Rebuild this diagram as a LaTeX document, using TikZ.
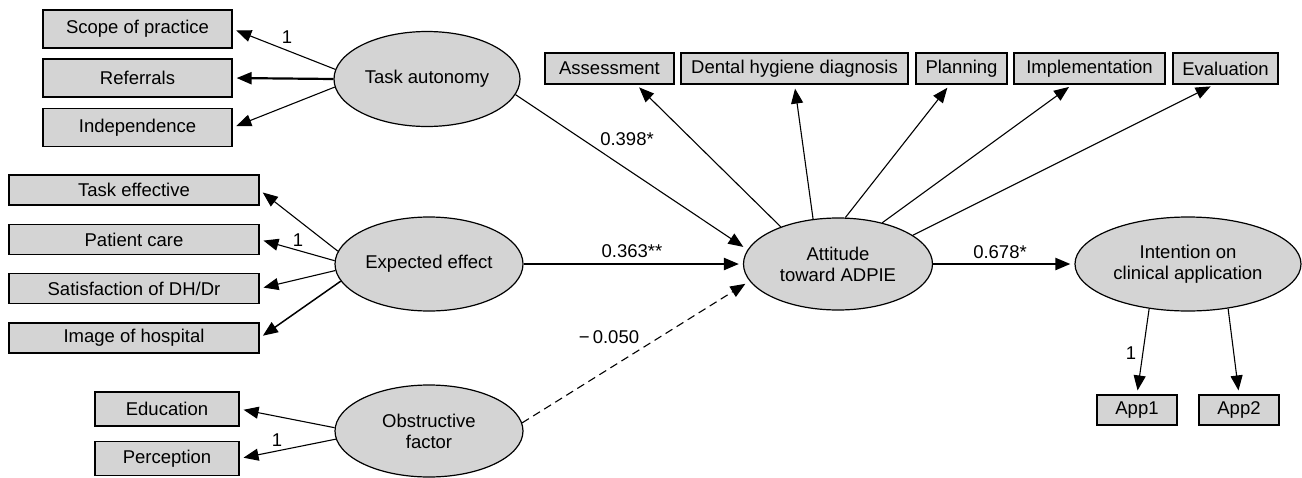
\documentclass[tikz,border=0pt]{standalone}
\usepackage{fontspec}
\setmainfont{Liberation Sans}
\usetikzlibrary{arrows.meta,shapes.geometric}
\definecolor{fillgray}{RGB}{212,212,212}
\tikzset{
  obs/.style={draw=black, fill=fillgray, line width=1.2pt, inner sep=0pt},
  lat/.style={ellipse, draw=black, fill=fillgray, line width=1.2pt, inner sep=0pt, align=center},
  arr/.style={-{Triangle[length=15pt,width=12pt]}, line width=1.1pt, shorten >=4pt},
  thk/.style={line width=2.2pt},
  lbl/.style={inner sep=0pt}
}
\begin{document}
\begin{tikzpicture}[x=1pt,y=-1pt,font=\fontsize{18.5}{21}\selectfont]
\useasboundingbox (0,0) rectangle (1302,477);

% latent variables
\node[lat, minimum width=186pt, minimum height=95pt] (ta) at (427,79) {Task autonomy};
\node[lat, minimum width=188pt, minimum height=94pt] (ee) at (429,264) {Expected effect};
\node[lat, minimum width=188pt, minimum height=92pt] (of) at (429,431) {Obstructive\\factor};
\node[lat, minimum width=189pt, minimum height=92pt] (att) at (838,264) {Attitude\\toward ADPIE};
\node[lat, minimum width=226pt, minimum height=94pt] (int) at (1188,264) {Intention on\\clinical application};

% task autonomy indicators
\node[obs, minimum width=189pt, minimum height=38pt] (scope) at (137.5,29) {Scope of practice};
\node[obs, minimum width=189pt, minimum height=38pt] (ref) at (137.5,78) {Referrals};
\node[obs, minimum width=189pt, minimum height=38pt] (ind) at (137.5,127.5) {Independence};

% expected effect indicators
\node[obs, minimum width=250pt, minimum height=30pt] (te) at (134,190) {Task effective};
\node[obs, minimum width=250pt, minimum height=30pt] (pc) at (134,239.5) {Patient care};
\node[obs, minimum width=250pt, minimum height=30pt] (sat) at (134,288.5) {Satisfaction of DH/Dr};
\node[obs, minimum width=250pt, minimum height=30pt] (img) at (134,338) {Image of hospital};

% obstructive indicators
\node[obs, minimum width=144pt, minimum height=34pt] (edu) at (167,409) {Education};
\node[obs, minimum width=144pt, minimum height=34pt] (per) at (167,458.5) {Perception};

% ADPIE indicators
\node[obs, minimum width=129pt, minimum height=31pt] (ass) at (609.5,68.5) {Assessment};
\node[obs, minimum width=227pt, minimum height=31pt] (dhd) at (794.5,68.5) {Dental hygiene diagnosis};
\node[obs, minimum width=91pt, minimum height=31pt] (pla) at (961.5,68.5) {Planning};
\node[obs, minimum width=151pt, minimum height=31pt] (imp) at (1089.5,68.5) {Implementation};
\node[obs, minimum width=105pt, minimum height=31pt] (eva) at (1225.5,68.5) {Evaluation};

% application indicators
\node[obs, minimum width=80pt, minimum height=30pt] (app1) at (1137,410) {App1};
\node[obs, minimum width=80pt, minimum height=30pt] (app2) at (1239,410) {App2};

% task autonomy arrows
\draw[arr] (ta.174) -- (scope.east);
\draw[arr, thk] (ta.180) -- (ref.east);
\draw[arr] (ta.185.5) -- (ind.east);

% expected effect arrows
\draw[arr] (ee.172.8) -- (te.east);
\draw[arr] (ee.178.8) -- (pc.east);
\draw[arr] (ee.184.8) -- (sat.east);
\draw[arr, line width=1.5pt] (ee.191.4) -- (img.east);

% obstructive arrows
\draw[arr] (of.178.8) -- (edu.east);
\draw[arr] (of.185.4) -- (per.east);

% structural paths
\draw[arr, shorten >=5pt] (ta.350) -- (att.171);
\draw[arr, thk] (ee.east) -- (att.west);
\draw[arr, dashed, dash pattern=on 8pt off 5pt, shorten >=5pt] (of.5.5) -- (att.191);
\draw[arr, thk] (att.east) -- (int.west);

% ADPIE arrows
\draw[arr] (att.147.2) -- (ass.-31);
\draw[arr] (att.119) -- (dhd.south);
\draw[arr] (att.81.7) -- (pla.-126.6);
\draw[arr] (att.43.7) -- (imp.223.2);
\draw[arr] (att.21.1) -- (eva.235.9);

% application arrows
\draw[arr] (int.229.7) -- (app1.north);
\draw[arr] (int.312.4) -- (app2.north);

% labels
\node[lbl] (l1) at (287,37) {1};
\node[lbl] (l2) at (298,240) {1};
\node[lbl] (l3) at (277,440) {1};
\node[lbl] (l4) at (1131,353) {1};
\node[lbl] (l398) at (627,139) {0.398*};
\node[lbl] (l363) at (632,251) {0.363**};
\node[lbl] (l678) at (1000,252) {0.678*};
\node[lbl] (l050) at (609,337) {−\,0.050};
\end{tikzpicture}
\end{document}
